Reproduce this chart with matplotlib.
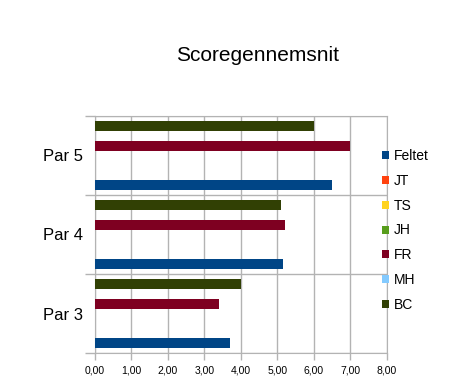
import matplotlib.pyplot as plt
from matplotlib.ticker import FuncFormatter

plt.rcParams["font.family"] = ["Liberation Sans", "DejaVu Sans"]

# ============================
TITLE = "Scoregennemsnit"
CATEGORIES = ["Par 3", "Par 4", "Par 5"]
SERIES = ["Feltet", "JT", "TS", "JH", "FR", "MH", "BC"]
COLORS = ["#004586", "#ff420e", "#ffd320", "#579d1c", "#7e0021", "#83caff", "#314004"]

# one list per series (order = CATEGORIES); None = no bar
FELTET = [3.70, 5.15, 6.50]
JT = [None, None, None]
TS = [None, None, None]
JH = [None, None, None]
FR = [3.40, 5.20, 7.00]
MH = [None, None, None]
BC = [4.00, 5.10, 6.00]
# ============================

VALUES = [FELTET, JT, TS, JH, FR, MH, BC]

fig = plt.figure(figsize=(4.77, 3.89), dpi=100)
ax = fig.add_axes([0.199, 0.0925, 0.612, 0.6095])

slot = 0.1245
for i, (name, vals, color) in enumerate(zip(SERIES, VALUES, COLORS)):
    ys = [c + (i - 3) * slot for c in range(len(CATEGORIES))]
    xs = [v if v is not None else 0 for v in vals]
    ax.barh(ys, xs, height=slot, color=color, label=name, zorder=3)

ax.set_xlim(0, 8)
ax.set_ylim(-0.5, len(CATEGORIES) - 0.5)
ax.set_xticks(range(0, 9))
ax.xaxis.set_major_formatter(FuncFormatter(lambda v, p: f"{v:.2f}".replace(".", ",")))

# category labels between boundary ticks
ax.set_yticks([-0.5, 0.5, 1.5, 2.5])
ax.set_yticklabels([])
ax.set_yticks(range(len(CATEGORIES)), minor=True)
ax.set_yticklabels(CATEGORIES, minor=True, fontsize=12)
ax.tick_params(axis="y", which="minor", length=0, pad=8.6)
ax.tick_params(axis="y", which="major", length=7, color="#b3b3b3", width=1)
ax.tick_params(axis="x", length=5, color="#b3b3b3", width=1, labelsize=7.5, pad=4)

ax.grid(True, which="major", color="#b3b3b3", linewidth=1, zorder=0)
for s in ax.spines.values():
    s.set_color("#b3b3b3")

fig.text(0.54, 0.857, TITLE, ha="center", va="center", fontsize=15)

handles, labels = ax.get_legend_handles_labels()
leg = fig.legend(handles, labels, loc="upper left", bbox_to_anchor=(0.801, 0.617),
                 frameon=False, fontsize=10, handlelength=0.5, handleheight=0.5,
                 handletextpad=0.35, labelspacing=0.78, borderpad=0, borderaxespad=0)

fig.savefig("out.png", dpi=100)
